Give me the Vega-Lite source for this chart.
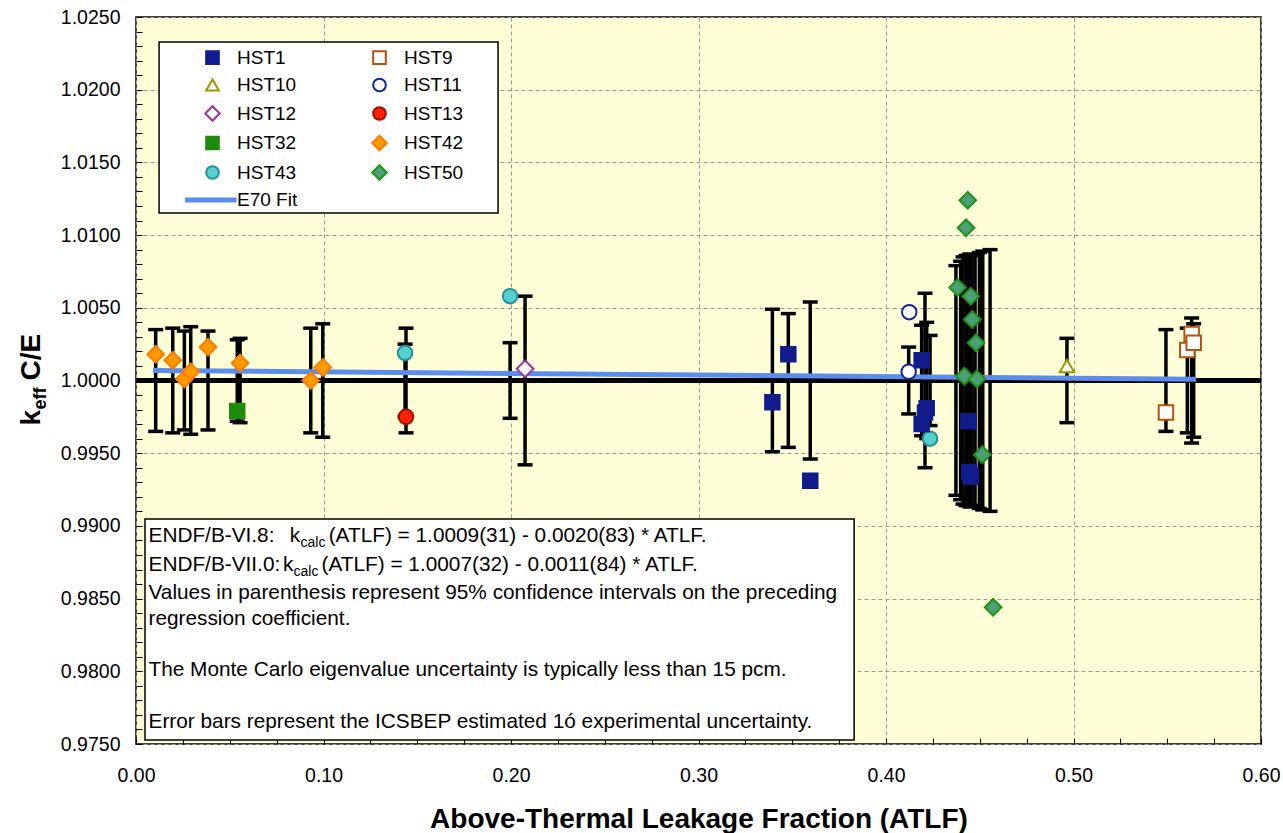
{
  "$schema": "https://vega.github.io/schema/vega-lite/v6.json",
  "width": 1125,
  "height": 727,
  "autosize": {"type": "none"},
  "padding": {"left": 136, "top": 17, "right": 22, "bottom": 89},
  "background": "#FFFFFF",
  "config": {
    "view": {"fill": "#FFFFD7", "stroke": "#000000", "strokeWidth": 1.5},
    "font": "Liberation Sans",
    "text": {"font": "Liberation Sans", "color": "#000000"}
  },
  "datasets": {
    "pts": [
      {"s": "HST42", "x": 0.0105, "k": 1.0018},
      {"s": "HST42", "x": 0.0196, "k": 1.0014},
      {"s": "HST42", "x": 0.0258, "k": 1.0001},
      {"s": "HST42", "x": 0.0292, "k": 1.0006},
      {"s": "HST42", "x": 0.0384, "k": 1.0023},
      {"s": "HST42", "x": 0.0555, "k": 1.0012},
      {"s": "HST42", "x": 0.0932, "k": 1.0000},
      {"s": "HST42", "x": 0.0996, "k": 1.0009},
      {"s": "HST32", "x": 0.0540, "k": 0.9979},
      {"s": "HST43", "x": 0.1435, "k": 1.0019},
      {"s": "HST43", "x": 0.1995, "k": 1.0058},
      {"s": "HST43", "x": 0.4235, "k": 0.9960},
      {"s": "HST13", "x": 0.1440, "k": 0.9975},
      {"s": "HST12", "x": 0.2075, "k": 1.0008},
      {"s": "HST1", "x": 0.3394, "k": 0.9985},
      {"s": "HST1", "x": 0.3479, "k": 1.0018},
      {"s": "HST1", "x": 0.3596, "k": 0.9931},
      {"s": "HST1", "x": 0.4190, "k": 1.0014},
      {"s": "HST1", "x": 0.4217, "k": 0.9981},
      {"s": "HST1", "x": 0.4208, "k": 0.9978},
      {"s": "HST1", "x": 0.4190, "k": 0.9970},
      {"s": "HST1", "x": 0.4439, "k": 0.9972},
      {"s": "HST1", "x": 0.4444, "k": 0.9937},
      {"s": "HST1", "x": 0.4452, "k": 0.9934},
      {"s": "HST11", "x": 0.4124, "k": 1.0047},
      {"s": "HST11", "x": 0.4121, "k": 1.0006},
      {"s": "HST50", "x": 0.4382, "k": 1.0064},
      {"s": "HST50", "x": 0.4427, "k": 1.0105},
      {"s": "HST50", "x": 0.4436, "k": 1.0124},
      {"s": "HST50", "x": 0.4452, "k": 1.0058},
      {"s": "HST50", "x": 0.4460, "k": 1.0042},
      {"s": "HST50", "x": 0.4480, "k": 1.0026},
      {"s": "HST50", "x": 0.4418, "k": 1.0003},
      {"s": "HST50", "x": 0.4485, "k": 1.0001},
      {"s": "HST50", "x": 0.4514, "k": 0.9949},
      {"s": "HST50", "x": 0.4571, "k": 0.9844},
      {"s": "HST10", "x": 0.4965, "k": 1.0010},
      {"s": "HST9", "x": 0.5493, "k": 0.9978},
      {"s": "HST9", "x": 0.5607, "k": 1.0021},
      {"s": "HST9", "x": 0.5630, "k": 1.0032},
      {"s": "HST9", "x": 0.5641, "k": 1.0026}
    ],
    "err": [
      {"x": 0.0105, "lo": 0.9965, "hi": 1.0035},
      {"x": 0.0196, "lo": 0.9964, "hi": 1.0036},
      {"x": 0.0258, "lo": 0.9966, "hi": 1.0034},
      {"x": 0.0292, "lo": 0.9963, "hi": 1.0037},
      {"x": 0.0384, "lo": 0.9966, "hi": 1.0034},
      {"x": 0.0540, "lo": 0.9972, "hi": 1.0028},
      {"x": 0.0555, "lo": 0.9971, "hi": 1.0029},
      {"x": 0.0932, "lo": 0.9964, "hi": 1.0036},
      {"x": 0.0996, "lo": 0.9961, "hi": 1.0039},
      {"x": 0.1435, "lo": 0.9975, "hi": 1.0025},
      {"x": 0.1440, "lo": 0.9964, "hi": 1.0036},
      {"x": 0.1995, "lo": 0.9974, "hi": 1.0026},
      {"x": 0.2075, "lo": 0.9942, "hi": 1.0058},
      {"x": 0.3394, "lo": 0.9951, "hi": 1.0049},
      {"x": 0.3479, "lo": 0.9954, "hi": 1.0046},
      {"x": 0.3596, "lo": 0.9946, "hi": 1.0054},
      {"x": 0.4121, "lo": 0.9977, "hi": 1.0023},
      {"x": 0.4190, "lo": 0.9962, "hi": 1.0038},
      {"x": 0.4208, "lo": 0.9940, "hi": 1.0060},
      {"x": 0.4217, "lo": 0.9960, "hi": 1.0040},
      {"x": 0.4235, "lo": 0.9969, "hi": 1.0031},
      {"x": 0.4373, "lo": 0.9921, "hi": 1.0079},
      {"x": 0.4398, "lo": 0.9918, "hi": 1.0082},
      {"x": 0.4411, "lo": 0.9915, "hi": 1.0085},
      {"x": 0.4427, "lo": 0.9914, "hi": 1.0086},
      {"x": 0.4437, "lo": 0.9914, "hi": 1.0086},
      {"x": 0.4448, "lo": 0.9913, "hi": 1.0087},
      {"x": 0.4459, "lo": 0.9914, "hi": 1.0086},
      {"x": 0.4475, "lo": 0.9914, "hi": 1.0086},
      {"x": 0.4498, "lo": 0.9912, "hi": 1.0088},
      {"x": 0.4516, "lo": 0.9911, "hi": 1.0089},
      {"x": 0.4555, "lo": 0.9910, "hi": 1.0090},
      {"x": 0.4965, "lo": 0.9971, "hi": 1.0029},
      {"x": 0.5493, "lo": 0.9965, "hi": 1.0035},
      {"x": 0.5607, "lo": 0.9964, "hi": 1.0036},
      {"x": 0.5630, "lo": 0.9957, "hi": 1.0043},
      {"x": 0.5641, "lo": 0.9961, "hi": 1.0039}
    ],
    "fit": [
      {"x": 0.0091, "k": 1.00069},
      {"x": 0.5653, "k": 1.00009}
    ],
    "one": [{}]
  },
  "layer": [
    {
      "data": {"name": "err"},
      "mark": {"type": "rule", "color": "#000000", "strokeWidth": 3.5},
      "encoding": {
        "x": {
          "field": "x", "type": "quantitative",
          "scale": {"domain": [0, 0.6], "nice": false, "zero": false},
          "axis": {
            "values": [0, 0.025, 0.05, 0.075, 0.1, 0.125, 0.15, 0.175, 0.2, 0.225, 0.25, 0.275, 0.3, 0.325, 0.35, 0.375, 0.4, 0.425, 0.45, 0.475, 0.5, 0.525, 0.55, 0.575, 0.6],
            "tickCount": 200,
            "labelExpr": "round(datum.value*1000) % 100 === 0 ? format(datum.value, '.2f') : ''",
            "title": "Above-Thermal Leakage Fraction (ATLF)",
            "titleFont": "Liberation Sans", "titleFontSize": 28, "titleFontWeight": "bold", "titleColor": "#000000",
            "titleBaseline": "alphabetic", "titleY": 83,
            "labelFont": "Liberation Sans", "labelFontSize": 19.5, "labelColor": "#000000",
            "labelBaseline": "alphabetic", "labelPadding": 43, "labelFlush": false, "labelOverlap": false,
            "tickSize": -6, "tickColor": "#000000", "tickWidth": 1,
            "domain": false,
            "grid": true, "gridColor": "#9A9A9A", "gridDash": [4, 3], "gridWidth": 1,
            "gridOpacity": {"condition": {"test": "round(datum.value*1000) % 100 === 0", "value": 1}, "value": 0}
          }
        },
        "y": {
          "field": "lo", "type": "quantitative",
          "scale": {"domain": [0.975, 1.025], "nice": false, "zero": false},
          "axis": {
            "values": [0.975, 0.976, 0.977, 0.978, 0.979, 0.98, 0.981, 0.982, 0.983, 0.984, 0.985, 0.986, 0.987, 0.988, 0.989, 0.99, 0.991, 0.992, 0.993, 0.994, 0.995, 0.996, 0.997, 0.998, 0.999, 1.0, 1.001, 1.002, 1.003, 1.004, 1.005, 1.006, 1.007, 1.008, 1.009, 1.01, 1.011, 1.012, 1.013, 1.014, 1.015, 1.016, 1.017, 1.018, 1.019, 1.02, 1.021, 1.022, 1.023, 1.024, 1.025],
            "tickCount": 200,
            "labelExpr": "round(datum.value*10000) % 50 === 0 ? format(datum.value, '.4f') : ''",
            "title": null,
            "labelFont": "Liberation Sans", "labelFontSize": 19.5, "labelColor": "#000000",
            "labelPadding": 22, "labelFlush": false, "labelOverlap": false,
            "tickSize": -6, "tickColor": "#000000", "tickWidth": 1,
            "domain": false,
            "grid": true, "gridColor": "#9A9A9A", "gridDash": [4, 3], "gridWidth": 1,
            "gridOpacity": {"condition": {"test": "round(datum.value*10000) % 50 === 0", "value": 1}, "value": 0}
          }
        },
        "y2": {"field": "hi"}
      }
    },
    {
      "data": {"name": "err"},
      "mark": {"type": "tick", "orient": "horizontal", "color": "#000000", "size": 15, "thickness": 3.5, "opacity": 1},
      "encoding": {
        "x": {"field": "x", "type": "quantitative"},
        "y": {"field": "lo", "type": "quantitative"}
      }
    },
    {
      "data": {"name": "err"},
      "mark": {"type": "tick", "orient": "horizontal", "color": "#000000", "size": 15, "thickness": 3.5, "opacity": 1},
      "encoding": {
        "x": {"field": "x", "type": "quantitative"},
        "y": {"field": "hi", "type": "quantitative"}
      }
    },
    {
      "data": {"name": "one"},
      "mark": {"type": "rule", "color": "#000000", "strokeWidth": 5},
      "encoding": {"y": {"datum": 1.0, "type": "quantitative"}}
    },
    {
      "data": {"name": "fit"},
      "mark": {"type": "line", "color": "#5B8DEF", "strokeWidth": 5},
      "encoding": {
        "x": {"field": "x", "type": "quantitative"},
        "y": {"field": "k", "type": "quantitative"}
      }
    },
    {
      "data": {"name": "one"},
      "mark": {"type": "rect", "fill": "#FFFFFF", "stroke": "#000000", "strokeWidth": 1.5},
      "encoding": {
        "x": {"datum": 0.0123, "type": "quantitative"},
        "x2": {"datum": 0.1931},
        "y": {"datum": 1.02328, "type": "quantitative"},
        "y2": {"datum": 1.01152}
      }
    },
    {
      "data": {"name": "one"},
      "mark": {"type": "rect", "fill": "#FFFFFF", "stroke": "#000000", "strokeWidth": 1.5},
      "encoding": {
        "x": {"datum": 0.0048, "type": "quantitative"},
        "x2": {"datum": 0.3830},
        "y": {"datum": 0.99047, "type": "quantitative"},
        "y2": {"datum": 0.97527}
      }
    },
    {
      "data": {"name": "pts"},
      "mark": {"type": "point", "filled": true, "opacity": 1, "strokeWidth": 2, "size": 210},
      "encoding": {
        "x": {"field": "x", "type": "quantitative"},
        "y": {"field": "k", "type": "quantitative"},
        "shape": {
          "field": "s", "type": "nominal",
          "scale": {
            "domain": ["HST1", "HST10", "HST12", "HST32", "HST43", "E70 Fit", "HST9", "HST11", "HST13", "HST42", "HST50"],
            "range": ["square", "triangle-up", "M0,-1.15L1.15,0L0,1.15L-1.15,0Z", "square", "circle", "M-4.2,-0.24H3.65V0.24H-4.2Z", "square", "circle", "circle", "M0,-1.15L1.15,0L0,1.15L-1.15,0Z", "M0,-1.15L1.15,0L0,1.15L-1.15,0Z"]
          },
          "legend": {
            "orient": "none", "legendX": 67, "legendY": 31, "columns": 2, "title": null,
            "labelFont": "Liberation Sans", "labelFontSize": 19, "labelColor": "#000000", "labelLimit": 300,
            "symbolSize": 160, "symbolStrokeWidth": 2, "symbolOpacity": 1,
            "rowPadding": 6.5, "columnPadding": 70, "labelOffset": 15, "padding": 0
          }
        },
        "fill": {
          "field": "s", "type": "nominal",
          "scale": {
            "domain": ["HST1", "HST10", "HST12", "HST32", "HST43", "E70 Fit", "HST9", "HST11", "HST13", "HST42", "HST50"],
            "range": ["#101C8C", "#FFFFFF", "#FFFFFF", "#1E8C0A", "#55D0D0", "#5B8DEF", "#FFFFFF", "#FFFFFF", "#FF2200", "#FF9A00", "#4C9F78"]
          },
          "legend": {
            "orient": "none", "legendX": 67, "legendY": 31, "columns": 2, "title": null,
            "labelFont": "Liberation Sans", "labelFontSize": 19, "labelColor": "#000000", "labelLimit": 300,
            "symbolSize": 160, "symbolStrokeWidth": 2, "symbolOpacity": 1,
            "rowPadding": 6.5, "columnPadding": 70, "labelOffset": 15, "padding": 0
          }
        },
        "stroke": {
          "field": "s", "type": "nominal",
          "scale": {
            "domain": ["HST1", "HST10", "HST12", "HST32", "HST43", "E70 Fit", "HST9", "HST11", "HST13", "HST42", "HST50"],
            "range": ["#101C8C", "#999900", "#9933A0", "#1E8C0A", "#2A8F96", "#5B8DEF", "#B4530F", "#14249C", "#A00F00", "#FF7A00", "#1E9414"]
          },
          "legend": {
            "orient": "none", "legendX": 67, "legendY": 31, "columns": 2, "title": null,
            "labelFont": "Liberation Sans", "labelFontSize": 19, "labelColor": "#000000", "labelLimit": 300,
            "symbolSize": 160, "symbolStrokeWidth": 2, "symbolOpacity": 1,
            "rowPadding": 6.5, "columnPadding": 70, "labelOffset": 15, "padding": 0
          }
        }
      }
    },
    {
      "data": {"name": "one"},
      "mark": {"type": "text", "text": "ENDF/B-VI.8:", "fontSize": 20.8, "align": "left", "baseline": "alphabetic"},
      "encoding": {"x": {"datum": 0.00667, "type": "quantitative"}, "y": {"datum": 0.98890, "type": "quantitative"}}
    },
    {
      "data": {"name": "one"},
      "mark": {"type": "text", "text": "k", "fontSize": 20.8, "align": "left", "baseline": "alphabetic"},
      "encoding": {"x": {"datum": 0.08203, "type": "quantitative"}, "y": {"datum": 0.98890, "type": "quantitative"}}
    },
    {
      "data": {"name": "one"},
      "mark": {"type": "text", "text": "calc", "fontSize": 14, "align": "left", "baseline": "alphabetic"},
      "encoding": {"x": {"datum": 0.08773, "type": "quantitative"}, "y": {"datum": 0.98855, "type": "quantitative"}}
    },
    {
      "data": {"name": "one"},
      "mark": {"type": "text", "text": "(ATLF) = 1.0009(31) - 0.0020(83) * ATLF.", "fontSize": 20.8, "align": "left", "baseline": "alphabetic"},
      "encoding": {"x": {"datum": 0.10277, "type": "quantitative"}, "y": {"datum": 0.98890, "type": "quantitative"}}
    },
    {
      "data": {"name": "one"},
      "mark": {"type": "text", "text": "ENDF/B-VII.0:", "fontSize": 20.8, "align": "left", "baseline": "alphabetic"},
      "encoding": {"x": {"datum": 0.00667, "type": "quantitative"}, "y": {"datum": 0.98690, "type": "quantitative"}}
    },
    {
      "data": {"name": "one"},
      "mark": {"type": "text", "text": "k", "fontSize": 20.8, "align": "left", "baseline": "alphabetic"},
      "encoding": {"x": {"datum": 0.07835, "type": "quantitative"}, "y": {"datum": 0.98690, "type": "quantitative"}}
    },
    {
      "data": {"name": "one"},
      "mark": {"type": "text", "text": "calc", "fontSize": 14, "align": "left", "baseline": "alphabetic"},
      "encoding": {"x": {"datum": 0.08400, "type": "quantitative"}, "y": {"datum": 0.98655, "type": "quantitative"}}
    },
    {
      "data": {"name": "one"},
      "mark": {"type": "text", "text": "(ATLF) = 1.0007(32) - 0.0011(84) * ATLF.", "fontSize": 20.8, "align": "left", "baseline": "alphabetic"},
      "encoding": {"x": {"datum": 0.09894, "type": "quantitative"}, "y": {"datum": 0.98690, "type": "quantitative"}}
    },
    {
      "data": {"name": "one"},
      "mark": {"type": "text", "text": "Values in parenthesis represent 95% confidence intervals on the preceding\nregression coefficient.", "lineBreak": "\n", "lineHeight": 26.5, "fontSize": 20.8, "align": "left", "baseline": "alphabetic"},
      "encoding": {"x": {"datum": 0.00667, "type": "quantitative"}, "y": {"datum": 0.98500, "type": "quantitative"}}
    },
    {
      "data": {"name": "one"},
      "mark": {"type": "text", "text": "The Monte Carlo eigenvalue uncertainty is typically less than 15 pcm.", "fontSize": 20.8, "align": "left", "baseline": "alphabetic"},
      "encoding": {"x": {"datum": 0.00667, "type": "quantitative"}, "y": {"datum": 0.97968, "type": "quantitative"}}
    },
    {
      "data": {"name": "one"},
      "mark": {"type": "text", "text": "Error bars represent the ICSBEP estimated 1ó experimental uncertainty.", "fontSize": 20.8, "align": "left", "baseline": "alphabetic"},
      "encoding": {"x": {"datum": 0.00667, "type": "quantitative"}, "y": {"datum": 0.97610, "type": "quantitative"}}
    },
    {
      "data": {"name": "one"},
      "mark": {"type": "text", "text": "k", "fontSize": 28, "fontWeight": "bold", "angle": 270, "align": "left", "baseline": "alphabetic"},
      "encoding": {"x": {"datum": -0.0512, "type": "quantitative"}, "y": {"datum": 0.99690, "type": "quantitative"}}
    },
    {
      "data": {"name": "one"},
      "mark": {"type": "text", "text": "eff", "fontSize": 18, "fontWeight": "bold", "angle": 270, "align": "left", "baseline": "alphabetic"},
      "encoding": {"x": {"datum": -0.0480, "type": "quantitative"}, "y": {"datum": 0.99800, "type": "quantitative"}}
    },
    {
      "data": {"name": "one"},
      "mark": {"type": "text", "text": "C/E", "fontSize": 28, "fontWeight": "bold", "angle": 270, "align": "left", "baseline": "alphabetic"},
      "encoding": {"x": {"datum": -0.0512, "type": "quantitative"}, "y": {"datum": 1.00000, "type": "quantitative"}}
    }
  ]
}
